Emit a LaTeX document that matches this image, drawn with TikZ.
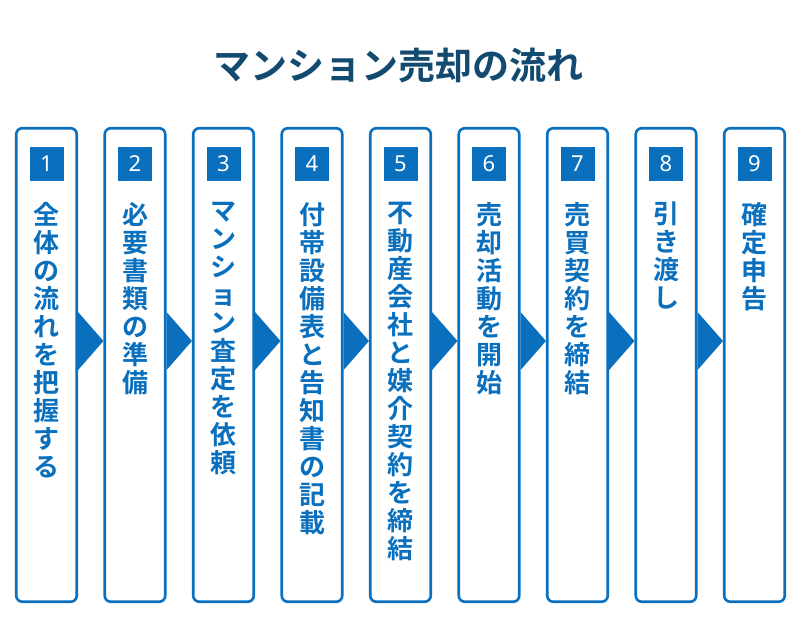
\documentclass[tikz,border=0pt]{standalone}
\usepackage{fontspec}
\newfontfamily\cjkb{Noto Sans CJK JP Bold}
\newfontfamily\numf{Noto Sans}
\definecolor{boxblue}{HTML}{0A70BE}
\definecolor{titleblue}{HTML}{134A70}
\tikzset{
  stepbox/.style={draw=boxblue, line width=2.6pt, rounded corners=6pt, fill=white,
    minimum width=60.5pt, minimum height=473.5pt, inner sep=0pt},
  numbox/.style={fill=boxblue, text=white, minimum size=34pt, inner sep=0pt,
    font=\numf\fontsize{22}{22}\selectfont},
  coltext/.style={anchor=north, align=center, inner sep=0pt, text=boxblue,
    font=\cjkb\fontsize{26}{28}\selectfont},
  arrowtri/.style={fill=boxblue},
  titletext/.style={text=titleblue, font=\cjkb\fontsize{37}{37}\selectfont, inner sep=0pt}
}
\begin{document}
\begin{tikzpicture}[x=1pt,y=-1pt]
\useasboundingbox (0,0) rectangle (800,625);
\node[titletext] (title) at (398,65) {マンション売却の流れ};
\foreach \i/\t in {
  1/{全\\体\\の\\流\\れ\\を\\把\\握\\す\\る},
  2/{必\\要\\書\\類\\の\\準\\備},
  3/{マ\\ン\\シ\\ョ\\ン\\査\\定\\を\\依\\頼},
  4/{付\\帯\\設\\備\\表\\と\\告\\知\\書\\の\\記\\載},
  5/{不\\動\\産\\会\\社\\と\\媒\\介\\契\\約\\を\\締\\結},
  6/{売\\却\\活\\動\\を\\開\\始},
  7/{売\\買\\契\\約\\を\\締\\結},
  8/{引\\き\\渡\\し},
  9/{確\\定\\申\\告}} {
  \node[stepbox] (box\i) at ({46.5+88.5*(\i-1)},365) {};
  \node[numbox] (num\i) at ([yshift=-37pt]box\i.north) {\i};
  \node[coltext] (txt\i) at ([yshift=-75pt]box\i.north) {\t};
}
\foreach \i [evaluate=\i as \j using int(\i+1)] in {1,...,8} {
  \fill[arrowtri] ([yshift=53pt]box\i.east) -- ([yshift=-5pt]box\i.east)
    -- ([yshift=24pt]box\j.west) -- cycle;
}
\end{tikzpicture}
\end{document}
